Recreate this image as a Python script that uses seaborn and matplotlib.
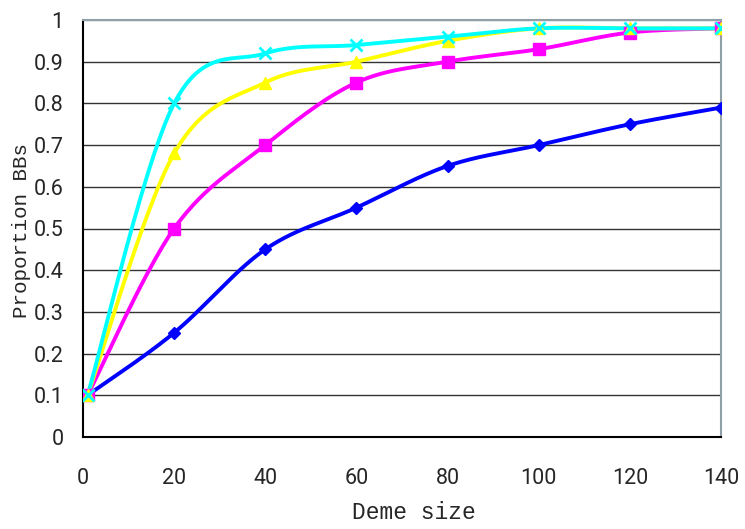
import numpy as np
import pandas as pd
import matplotlib
matplotlib.use("Agg")
import matplotlib.pyplot as plt
import seaborn as sns

deme_size = [1, 20, 40, 60, 80, 100, 120, 140]
series_blue = [0.10, 0.25, 0.45, 0.55, 0.65, 0.70, 0.75, 0.79]
series_magenta = [0.10, 0.50, 0.70, 0.85, 0.90, 0.93, 0.97, 0.98]
series_yellow = [0.10, 0.68, 0.85, 0.90, 0.95, 0.98, 0.98, 0.98]
series_cyan = [0.10, 0.80, 0.92, 0.94, 0.96, 0.98, 0.98, 0.98]
x_ticks = [0, 20, 40, 60, 80, 100, 120, 140]
y_ticks = [0, 0.1, 0.2, 0.3, 0.4, 0.5, 0.6, 0.7, 0.8, 0.9, 1]
y_tick_labels = ["0", "0.1", "0.2", "0.3", "0.4", "0.5", "0.6", "0.7", "0.8", "0.9", "1"]


def smooth(xs, ys, n=30):
    # Excel-style smoothed line (Catmull-Rom Bezier through the points)
    P = np.column_stack([xs, ys]).astype(float)
    out = []
    for i in range(len(P) - 1):
        p0 = P[i - 1] if i > 0 else P[i]
        p1 = P[i]
        p2 = P[i + 1]
        p3 = P[i + 2] if i + 2 < len(P) else P[i + 1]
        c1 = p1 + (p2 - p0) / 6.0
        c2 = p2 - (p3 - p1) / 6.0
        t = np.linspace(0, 1, n)[:, None]
        seg = ((1 - t) ** 3) * p1 + 3 * ((1 - t) ** 2) * t * c1 + 3 * (1 - t) * t ** 2 * c2 + t ** 3 * p2
        out.append(seg if i == 0 else seg[1:])
    s = np.vstack(out)
    return s[:, 0], s[:, 1]


sns.set_style("white")
plt.rcParams['font.family'] = ['Liberation Mono', 'DejaVu Sans Mono']

fig = plt.figure(figsize=(7.45, 5.29), dpi=100)
ax = fig.add_axes([83 / 745, 1 - 437 / 529, (721 - 83) / 745, (437 - 20) / 529])

for y in y_ticks[1:]:
    ax.axhline(y, color="#333333" if y < 1 else "#90a0a8", lw=1.0, zorder=1)

specs = [
    (series_blue, "#0000ff", "D", 6),
    (series_magenta, "#ff00ff", "s", 8),
    (series_yellow, "#ffff00", "^", 8),
    (series_cyan, "#00ffff", "x", 8),
]
for ys, col, mk, ms in specs:
    sx, sy = smooth(deme_size, ys)
    sns.lineplot(x=sx, y=sy, ax=ax, color=col, lw=2.8, sort=False, zorder=3)
    ax.plot(deme_size, ys, linestyle="none", marker=mk, color=col,
            markersize=ms, markeredgewidth=2 if mk == "x" else 1, zorder=4)

ax.set_xlim(0, 140)
ax.set_ylim(0, 1)
ax.set_xticks(x_ticks)
ax.set_yticks(y_ticks)
ax.set_yticklabels(y_tick_labels)
ax.tick_params(axis="both", direction="in", length=6, width=1.2, color="black",
               labelsize=15.5)
ax.tick_params(axis="y", length=0, pad=14)
ax.tick_params(axis="x", pad=22)
for lab in ax.get_xticklabels() + ax.get_yticklabels():
    lab.set_fontfamily(['Roboto', 'DejaVu Sans'])

for side in ["left", "bottom"]:
    ax.spines[side].set_color("black")
    ax.spines[side].set_linewidth(1.5)
for side in ["top", "right"]:
    ax.spines[side].set_color("#90a0a8")
    ax.spines[side].set_linewidth(1.5)

ax.set_xlabel("Deme size", fontsize=16.5)
ax.xaxis.set_label_coords((414 - 83) / 638, -(501 - 437) / 417, transform=ax.transAxes)
ax.xaxis.label.set_va("top")
fig.text(22 / 745, 1 - 231 / 529, "Proportion BBs", rotation=90, fontsize=15,
         ha="center", va="center")

fig.savefig("out.png", dpi=100)
